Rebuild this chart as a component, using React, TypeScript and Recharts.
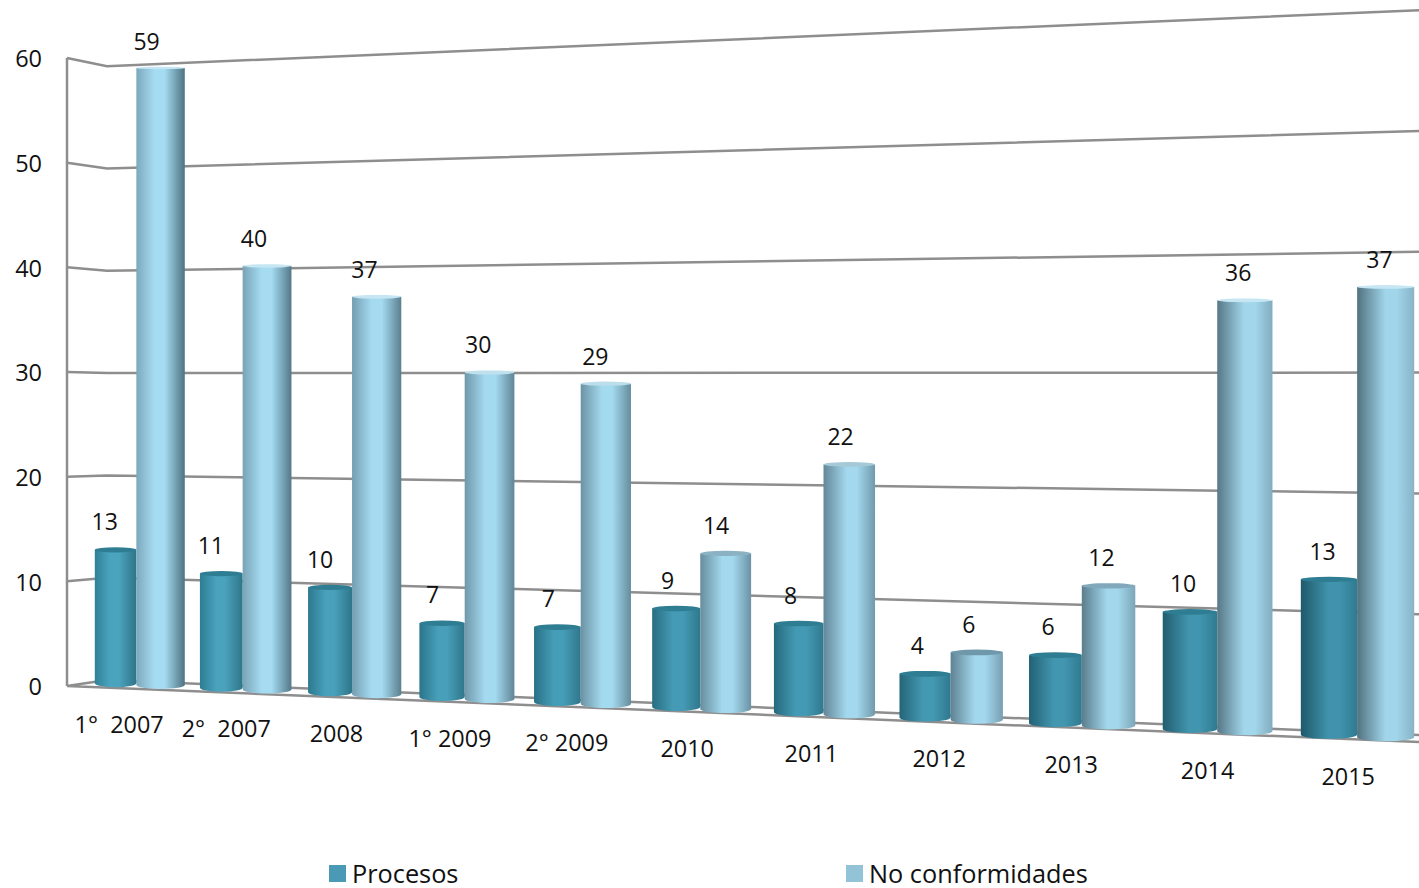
import { BarChart, Bar, XAxis, YAxis, CartesianGrid, Legend, LabelList } from 'recharts'

const categories = ['1°\u00A0\u00A02007', '2°\u00A0\u00A02007', '2008', '1° 2009', '2° 2009', '2010', '2011', '2012', '2013', '2014', '2015']
const procesos = [13, 11, 10, 7, 7, 9, 8, 4, 6, 10, 13]
const noConformidades = [59, 40, 37, 30, 29, 14, 22, 6, 12, 36, 37]
const yTicks = [0, 10, 20, 30, 40, 50, 60]
const seriesNames = ['Procesos', 'No conformidades']

const data = categories.map((name, i) => ({
  name,
  Procesos: procesos[i],
  'No conformidades': noConformidades[i],
}))

const FONT = '"Open Sans", sans-serif'
const GRID = '#8e8e8e'
const PLOT_LEFT = 67
const PLOT_WIDTH = 1352
const PLOT_BOTTOM = 686
const UNIT = 628 / 60

// the reference is a 3D chart, so flat scale positions go through a perspective
const toT = (x: number) => (x - PLOT_LEFT) / PLOT_WIDTH
const projX = (t: number) => (1123.8 * t + 84) / (1 - 0.1546 * t) + 0.7
const depth = (t: number) => 0.9936 / (1 - 0.1546 * t)
const floorY = (px: number) => 688 + 0.0426 * (px - 136)
const barTop = (px: number, t: number, height: number) => floorY(px) - height * depth(t) - (4.5 - (2 * height) / 628)

const hex = (c: string) => [1, 3, 5].map((i) => parseInt(c.slice(i, i + 2), 16))
function mix(a: string, b: string, k: number) {
  const [ca, cb] = [hex(a), hex(b)]
  return `rgb(${ca.map((v, i) => Math.round(v + (cb[i] - v) * k)).join(',')})`
}

const procesosRamp = { left: ['#2f8299', '#1e5668'], mid: ['#4ba4bf', '#3f92ab'], right: ['#2f7488', '#2f7c92'], cap: ['#2f7d93', '#2f7d93'] }
const noConfRamp = { left: ['#80acc0', '#50707e'], mid: ['#a6ddf3', '#a1d5ea'], right: ['#4a6d7d', '#8ab5c8'], cap: ['#c5e6f2', '#6f98ab'] }

function Cylinder(props: any) {
  const { x, width, height, index, ramp, id, widen = 0 } = props
  const t0 = toT(x)
  const t1 = toT(x + width)
  const tc = (t0 + t1) / 2
  const left = projX(t0)
  // the back series is a little wider on the near side of the reference
  const right = projX(t1) + widen * Math.max(0, 1 - tc / 0.75)
  const rx = (right - left) / 2
  const top = barTop(projX(tc), tc, height)
  const bottom = floorY(projX(tc))
  const ryTop = 1 + 2 * (top / 680)
  const ryBottom = 4
  const yT = top + ryTop
  const yB = bottom - ryBottom
  const gid = `${id}-${index}`
  const mid = 0.47 + 0.13 * tc
  const midColor = mix(ramp.mid[0], ramp.mid[1], tc)
  return (
    <g>
      <defs>
        <linearGradient id={gid} x1="0" y1="0" x2="1" y2="0">
          <stop offset="0" stopColor={mix(ramp.left[0], ramp.left[1], tc)} />
          <stop offset={mid - 0.1} stopColor={midColor} />
          <stop offset={mid + 0.1} stopColor={midColor} />
          <stop offset="1" stopColor={mix(ramp.right[0], ramp.right[1], tc)} />
        </linearGradient>
      </defs>
      <path
        d={`M${left},${yT} L${right},${yT} L${right},${yB} A${rx},${ryBottom} 0 0 1 ${left},${yB} Z`}
        fill={`url(#${gid})`}
      />
      <ellipse
        cx={(left + right) / 2}
        cy={yT}
        rx={rx}
        ry={ryTop}
        fill={mix(ramp.cap[0], ramp.cap[1], Math.min(1, Math.max(0, (top - 350) / 300)))}
      />
    </g>
  )
}

function BarValue(props: any) {
  const { x, width, height, value } = props
  const t = toT(x + width / 2)
  const px = projX(t)
  return (
    <text x={px - 11 + 5 * t} y={barTop(px, t, height) - 26} textAnchor="middle" dominantBaseline="central" fontSize={23} fontFamily={FONT} fill="#111">
      {value}
    </text>
  )
}

function CategoryTick(props: any) {
  const { x, payload } = props
  const t = toT(x)
  const px = projX(t)
  return (
    <text x={px - 18 + 9 * t} y={floorY(px) + 35.5} textAnchor="middle" dominantBaseline="central" fontSize={23.4} fontFamily={FONT} fill="#111">
      {payload.value}
    </text>
  )
}

function WallLine(props: any) {
  const { y1 } = props
  const v = (PLOT_BOTTOM - y1) / UNIT
  const backLeft = 680 - 10.23 * v
  const backRight = 735 - 12.08 * v
  let d = `M${PLOT_LEFT},${y1} L107,${backLeft} L1419,${backRight}`
  if (v < 0.01) d += ` M${PLOT_LEFT},${y1} L1419,742`
  return <path d={d} fill="none" stroke={GRID} strokeWidth={2.5} />
}

function LegendRow({ payload }: any) {
  const items = [...(payload ?? [])].sort((a: any, b: any) => seriesNames.indexOf(a.value) - seriesNames.indexOf(b.value))
  return (
    <div style={{ display: 'flex', paddingLeft: 329, height: 30, alignItems: 'center', fontFamily: FONT, fontSize: 25.3, color: '#111' }}>
      {items.map((item: any) => (
        <div key={item.value} style={{ display: 'flex', alignItems: 'center', width: 517 }}>
          <span style={{ width: 17, height: 17, background: item.color, marginRight: 6 }} />
          {item.value}
        </div>
      ))}
    </div>
  )
}

export default function App() {
  return (
    <div style={{ position: 'absolute', left: 0, top: 0, width: 1419, height: 888, background: '#fff' }}>
      <BarChart
        width={1419}
        height={888}
        data={data}
        barGap={0}
        barSize={49}
        margin={{ top: 58, right: 0, left: 0, bottom: 142 }}
      >
        <CartesianGrid horizontal={(p: any) => <WallLine key={p.index} {...p} />} vertical={false} />
        <XAxis dataKey="name" height={30} axisLine={false} tickLine={false} tick={<CategoryTick />} interval={0} />
        <YAxis
          width={67}
          domain={[0, 60]}
          ticks={yTicks}
          interval={0}
          tickLine={false}
          tickSize={0}
          tickMargin={25}
          axisLine={{ stroke: GRID, strokeWidth: 2.5 }}
          tick={{ fontSize: 23.5, fontFamily: FONT, fill: '#111', dy: 1 }}
        />
        <Legend height={30} content={<LegendRow />} wrapperStyle={{ left: 0, bottom: 0, width: 1419 }} />
        <Bar dataKey="Procesos" fill="#4a9ab5" isAnimationActive={false} shape={(p: any) => <Cylinder {...p} ramp={procesosRamp} id="proc" />}>
          <LabelList dataKey="Procesos" content={<BarValue />} />
        </Bar>
        <Bar dataKey="No conformidades" fill="#92c3d6" isAnimationActive={false} shape={(p: any) => <Cylinder {...p} ramp={noConfRamp} id="nc" widen={7} />}>
          <LabelList dataKey="No conformidades" content={<BarValue />} />
        </Bar>
      </BarChart>
    </div>
  )
}
